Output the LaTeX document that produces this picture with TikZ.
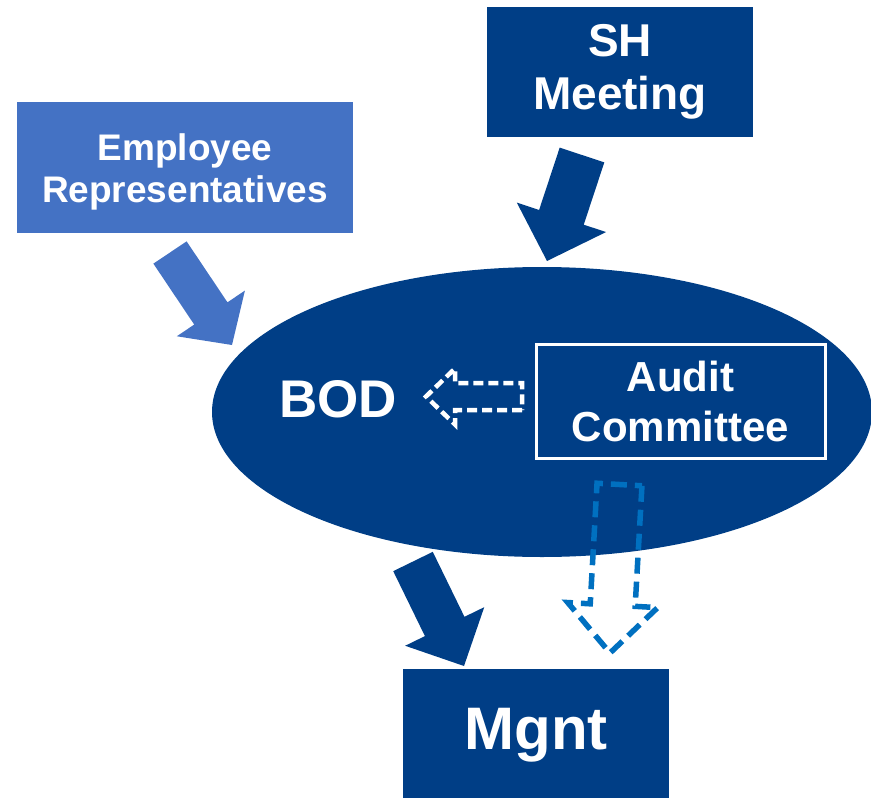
\documentclass[tikz,border=0pt]{standalone}
\usepackage{fontspec}
\setmainfont{Liberation Sans}
\usetikzlibrary{calc,shapes.geometric}

\definecolor{navy}{RGB}{0,62,134}
\definecolor{empblue}{RGB}{68,114,196}
\definecolor{dashblue}{RGB}{0,112,192}

% Block arrow from tail to tip: #1 style, #2 tail, #3 tip,
% #4 half shaft width, #5 half head width, #6 head length
\newcommand\blockarrow[6]{%
  \coordinate (ba-base) at ($(#3)!#6!(#2)$);
  \path[#1] ($(#2)!#4!90:(#3)$) -- ($(ba-base)!#4!90:(#3)$)
    -- ($(ba-base)!#5!90:(#3)$) -- (#3)
    -- ($(ba-base)!#5!-90:(#3)$) -- ($(ba-base)!#4!-90:(#3)$)
    -- ($(#2)!#4!-90:(#3)$) -- cycle;
}

\tikzset{
  box/.style={rectangle, inner sep=0pt, align=center, text=white},
  label/.style={text=white, inner sep=0pt, align=center},
}

\begin{document}
\begin{tikzpicture}[x=1pt, y=-1pt]
\useasboundingbox (0,0) rectangle (871,798);

% board of directors
\node[ellipse, fill=navy, inner sep=0pt, minimum width=660pt, minimum height=290pt] (bod) at (542,412) {};
\node[label, font=\fontsize{53}{60}\selectfont\bfseries] (bodtext) at (338,399) {BOD};

% audit committee inside the board
\node[box, draw=white, line width=3pt, minimum width=289pt, minimum height=114pt,
      font=\fontsize{42}{50}\selectfont\bfseries] (audit) at (680.5,401) {Audit\\Committee};

% outer bodies
\node[box, fill=navy, minimum width=266pt, minimum height=130pt,
      font=\fontsize{46}{53}\selectfont\bfseries] (sh) at (620,72) {SH\\Meeting};
\node[box, fill=empblue, minimum width=336pt, minimum height=131pt] (emp) at (185,167.5) {};
\node[label, font=\fontsize{37}{42}\selectfont\bfseries] (emptext) at (185,171.5) {Employee\\Representatives};
\node[box, fill=navy, minimum width=266pt, minimum height=132pt,
      font=\fontsize{60}{66}\selectfont\bfseries] (mgnt) at (536,735) {Mgnt};

% arrow end points
\coordinate (sh-tail) at (582,155);
\coordinate (sh-tip) at (547,261);
\coordinate (emp-tail) at (170,252.5);
\coordinate (emp-tip) at (232,345);
\coordinate (mg-tail) at (413,561.5);
\coordinate (mg-tip) at (464,666);
\coordinate (rep-tail) at (522,396.5);
\coordinate (rep-tip) at (426,396.5);
\coordinate (ov-tail) at (619.5,484.5);
\coordinate (ov-tip) at (610,653);

% solid block arrows
\blockarrow{fill=navy}{sh-tail}{sh-tip}{23.5pt}{47pt}{46pt}
\blockarrow{fill=empblue}{emp-tail}{emp-tip}{20pt}{41pt}{38pt}
\blockarrow{fill=navy}{mg-tail}{mg-tip}{22pt}{44pt}{44pt}

% dashed hollow arrows
\blockarrow{draw=white, line width=4.5pt, dash pattern=on 10pt off 5pt}{rep-tail}{rep-tip}{13.5pt}{28pt}{29pt}
\blockarrow{draw=dashblue, line width=5.5pt, dash pattern=on 16pt off 8pt}{ov-tail}{ov-tip}{22.5pt}{45pt}{48pt}
\end{tikzpicture}
\end{document}
